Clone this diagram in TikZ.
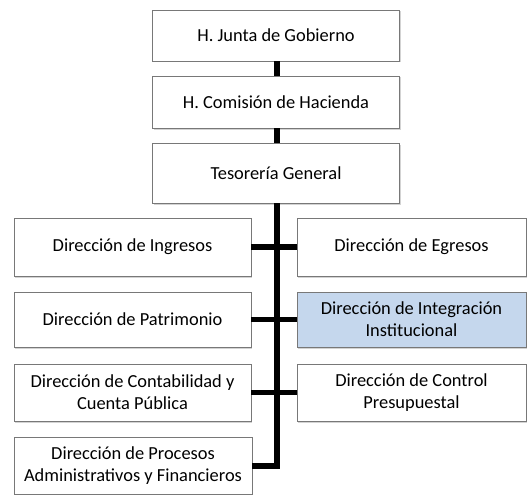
\documentclass[tikz,border=0pt]{standalone}
\usepackage{fontspec}
\setmainfont{Carlito}
\usetikzlibrary{shadows}
\definecolor{boxline}{RGB}{120,120,120}
\definecolor{hilite}{RGB}{197,215,237}
\tikzset{
  orgbox/.style={draw=boxline, line width=0.8pt, fill=white, align=center,
    inner sep=0pt, font=\fontsize{18.4}{22}\selectfont,
    drop shadow={opacity=0.35, shadow xshift=1.2pt, shadow yshift=-1.5pt}},
  spine/.style={line width=6pt, black},
  branch/.style={line width=5.5pt, black},
}
\begin{document}
\begin{tikzpicture}[x=1pt,y=-1pt]
\useasboundingbox (0,0) rectangle (528,495);
\coordinate (sx) at (277,0);
\node[orgbox, minimum width=247pt, minimum height=51pt] (top) at (276,35.5) {H. Junta de Gobierno};
\node[orgbox, minimum width=247pt, minimum height=52pt] (hac) at (276,102) {H. Comisión de Hacienda};
\node[orgbox, minimum width=247pt, minimum height=60pt] (tes) at (276,173) {Tesorería General};
\node[orgbox, minimum width=237pt, minimum height=58pt] (ing) at (132.5,247) {Dirección de Ingresos};
\node[orgbox, minimum width=229pt, minimum height=58pt] (egr) at (411.5,247) {Dirección de Egresos};
\node[orgbox, minimum width=237pt, minimum height=55pt] (pat) at (132.5,319.5) {Dirección de Patrimonio};
\node[orgbox, fill=hilite, minimum width=229pt, minimum height=55pt] (int) at (411.5,319.5) {Dirección de Integración\\Institucional};
\node[orgbox, minimum width=237pt, minimum height=57pt] (con) at (132.5,392.5) {Dirección de Contabilidad y\\Cuenta Pública};
\node[orgbox, minimum width=229pt, minimum height=57pt] (ctl) at (411.5,392.5) {Dirección de Control\\Presupuestal};
\node[orgbox, minimum width=238pt, minimum height=57pt] (pro) at (133,465.5) {Dirección de Procesos\\Administrativos y Financieros};
\draw[spine] (top.south -| sx) -- (hac.north -| sx);
\draw[spine] (hac.south -| sx) -- (tes.north -| sx);
\draw[spine] (tes.south -| sx) -- (sx |- pro.east) -- ([xshift=-0.4pt]pro.east);
\draw[branch] (ing.east) -- (egr.west);
\draw[branch] (pat.east) -- (int.west);
\draw[branch] (con.east) -- (ctl.west);
\end{tikzpicture}
\end{document}
